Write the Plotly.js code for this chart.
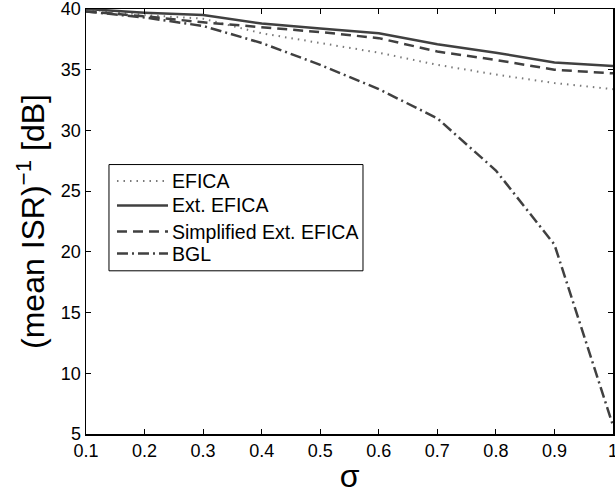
<!DOCTYPE html>
<html>
<head>
<meta charset="utf-8">
<script src="https://cdn.plot.ly/plotly-3.0.1.min.js"></script>
<style>html,body{margin:0;padding:0;background:#fff;}#chart{width:615px;height:495px;}</style>
</head>
<body>
<div id="chart"></div>
<script>
var sigma = [0.1, 0.2, 0.3, 0.4, 0.5, 0.6, 0.7, 0.8, 0.9, 1.0];
var efica = [40.0, 39.5, 39.2, 38.0, 37.2, 36.4, 35.4, 34.6, 33.9, 33.4];
var extEfica = [40.0, 39.7, 39.5, 38.8, 38.4, 38.0, 37.1, 36.4, 35.6, 35.3];
var simplifiedExtEfica = [39.8, 39.4, 38.9, 38.5, 38.1, 37.6, 36.5, 35.8, 35.0, 34.7];
var bgl = [39.8, 39.3, 38.6, 37.2, 35.4, 33.4, 31.0, 26.7, 20.6, 5.7];
var seriesNames = ['EFICA', 'Ext. EFICA', 'Simplified Ext. EFICA', 'BGL'];
var xTicks = [0.1, 0.2, 0.3, 0.4, 0.5, 0.6, 0.7, 0.8, 0.9, 1.0];
var xTickText = ['0.1', '0.2', '0.3', '0.4', '0.5', '0.6', '0.7', '0.8', '0.9', '1'];
var yTicks = [5, 10, 15, 20, 25, 30, 35, 40];

var lineStyles = [
  {color: '#7a7a7a', width: 2, dash: '1.5px,5px'},
  {color: '#404040', width: 2.5},
  {color: '#404040', width: 2.5, dash: '10px,6px'},
  {color: '#404040', width: 2.5, dash: '11px,4px,2px,4px'}
];
var seriesValues = [efica, extEfica, simplifiedExtEfica, bgl];

var traces = seriesValues.map(function (vals, i) {
  return {x: sigma, y: vals, name: seriesNames[i], mode: 'lines', line: lineStyles[i], showlegend: false};
});

// Boxed legend drawn in paper coordinates (plot area: 527 x 424 px)
var legBox = {x0: 0.0436, x1: 0.5256, y0: 0.384, y1: 0.634};
var legRowY = [0.5955, 0.5377, 0.4764, 0.4245];
var legLineX = [0.0588, 0.1556];
var legTextX = 0.1594;

var shapes = [{type: 'rect', xref: 'paper', yref: 'paper',
  x0: legBox.x0, x1: legBox.x1, y0: legBox.y0, y1: legBox.y1,
  fillcolor: '#ffffff', line: {color: '#000', width: 1}}];
var annotations = [];
seriesNames.forEach(function (name, i) {
  shapes.push({type: 'line', xref: 'paper', yref: 'paper',
    x0: legLineX[0], x1: legLineX[1], y0: legRowY[i], y1: legRowY[i], line: lineStyles[i]});
  annotations.push({xref: 'paper', yref: 'paper', x: legTextX, y: legRowY[i],
    xanchor: 'left', yanchor: 'middle', showarrow: false, text: name,
    font: {size: 19.5, color: '#000'}});
});

var layout = {
  width: 615, height: 495,
  margin: {l: 86, r: 2, t: 9, b: 61},
  paper_bgcolor: '#fff', plot_bgcolor: '#fff',
  font: {family: 'Liberation Sans, Arial, sans-serif', color: '#000', size: 18},
  showlegend: false,
  shapes: shapes,
  annotations: annotations,
  xaxis: {range: [0.1, 1.0], tickvals: xTicks, ticktext: xTickText,
    ticks: 'inside', ticklen: 5, tickcolor: '#000', showgrid: false, zeroline: false,
    showline: true, linecolor: '#000', linewidth: 1.5, mirror: 'ticks',
    tickfont: {size: 18}, ticklabeloverflow: 'allow',
    title: {text: 'σ', font: {size: 32}, standoff: 4}},
  yaxis: {range: [5, 40], tickvals: yTicks,
    ticks: 'inside', ticklen: 5, tickcolor: '#000', showgrid: false, zeroline: false,
    showline: true, linecolor: '#000', linewidth: 1.5, mirror: 'ticks',
    tickfont: {size: 18}, ticklabeloverflow: 'allow',
    title: {text: '(mean ISR)<sup>−1</sup> [dB]', font: {size: 32}, standoff: 6}}
};

Plotly.newPlot('chart', traces, layout, {displayModeBar: false, staticPlot: true});
</script>
</body>
</html>
